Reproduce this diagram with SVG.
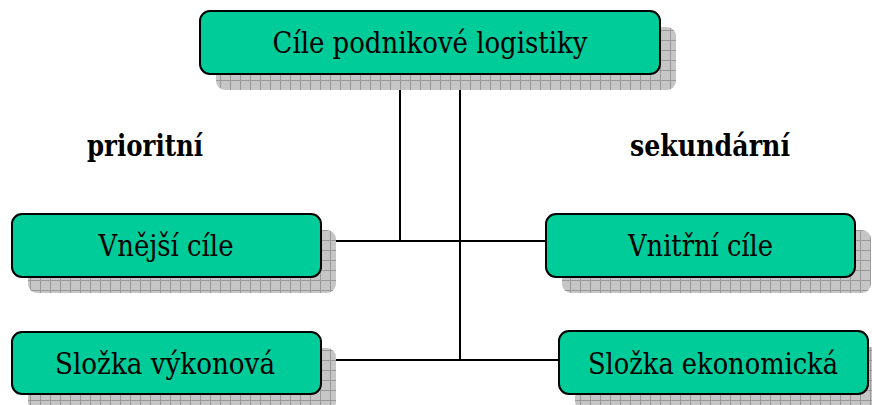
<svg xmlns="http://www.w3.org/2000/svg" width="872" height="405" viewBox="0 0 872 405">
<defs>
<pattern id="grid" width="10" height="10" patternUnits="userSpaceOnUse">
<rect width="10" height="10" fill="#c6c6c6"/>
<path d="M0 0.5H10M0.5 0V10" stroke="#999" stroke-width="1" fill="none"/>
</pattern>
</defs>
<style>
.shadow{fill:url(#grid);}
.box{fill:#00CC99;stroke:#000;stroke-width:2;}
.lbl{font-family:'DejaVu Serif Condensed','DejaVu Serif',serif;font-stretch:condensed;font-size:30px;fill:#000;text-anchor:middle;}
.bold{font-weight:bold;}
.conn{stroke:#000;stroke-width:2;fill:none;}
</style>
<g id="connectors">
<path class="conn" d="M400 74V241M321 241H546"/>
<path class="conn" d="M460 74V360M321 360H559"/>
</g>
<g id="node-top">
<rect class="shadow" x="216" y="27" width="460" height="63" rx="9"/>
<rect class="box" x="200" y="11" width="460" height="63" rx="10"/>
<text class="lbl" x="430" y="53" textLength="315" lengthAdjust="spacingAndGlyphs">Cíle podnikové logistiky</text>
</g>
<g id="label-prioritni">
<text class="lbl bold" x="145" y="156" textLength="116" lengthAdjust="spacingAndGlyphs">prioritní</text>
</g>
<g id="label-sekundarni">
<text class="lbl bold" x="710" y="156" textLength="160" lengthAdjust="spacingAndGlyphs">sekundární</text>
</g>
<g id="node-vnejsi">
<rect class="shadow" x="28" y="230" width="308" height="63" rx="9"/>
<rect class="box" x="12" y="214" width="309" height="63" rx="10"/>
<text class="lbl" x="166" y="256" textLength="135" lengthAdjust="spacingAndGlyphs">Vnější cíle</text>
</g>
<g id="node-vnitrni">
<rect class="shadow" x="562" y="230" width="309" height="63" rx="9"/>
<rect class="box" x="546" y="214" width="309" height="63" rx="10"/>
<text class="lbl" x="700.5" y="256" textLength="145" lengthAdjust="spacingAndGlyphs">Vnitřní cíle</text>
</g>
<g id="node-vykonova">
<rect class="shadow" x="28" y="348" width="308" height="63" rx="9"/>
<rect class="box" x="12" y="332" width="309" height="62" rx="10"/>
<text class="lbl" x="165" y="374" textLength="220" lengthAdjust="spacingAndGlyphs">Složka výkonová</text>
</g>
<g id="node-ekonomicka">
<rect class="shadow" x="575" y="347" width="309" height="63" rx="9"/>
<rect class="box" x="559" y="331" width="309" height="63" rx="10"/>
<text class="lbl" x="713" y="374" textLength="250" lengthAdjust="spacingAndGlyphs">Složka ekonomická</text>
</g>
</svg>
